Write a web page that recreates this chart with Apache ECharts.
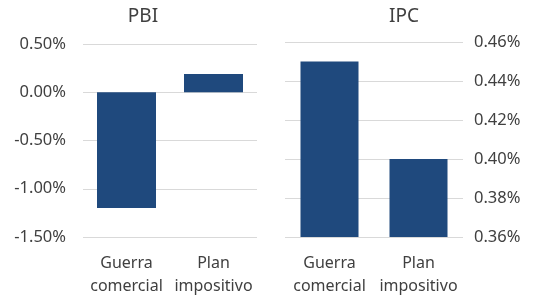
<!DOCTYPE html>
<html>
<head>
<meta charset="utf-8">
<script src="https://cdn.jsdelivr.net/npm/echarts@6/dist/echarts.min.js"></script>
<style>
  html, body { margin: 0; padding: 0; background: #fff; }
  #chart { width: 542px; height: 298px; }
</style>
</head>
<body>
<div id="chart"></div>
<script>
// categorias y valores (%)
const categories = ['Guerra\ncomercial', 'Plan\nimpositivo']
const pbiValues = [-1.2, 0.19]
const ipcValues = [0.45, 0.40]
const pbiTicks = { min: -1.5, max: 0.5, interval: 0.5 }
const ipcTicks = { min: 0.36, max: 0.46, interval: 0.02 }

const textColor = '#404040'
const barColor = '#1f497d'
const fontFamily = '"Noto Sans", sans-serif'

const pct = v => v.toFixed(2) + '%'

const dom = echarts.init(document.getElementById('chart'))
const option = {
  animation: false,
  textStyle: { fontFamily: fontFamily },
  title: [
    {
      text: 'PBI', left: 138, top: 2, textAlign: 'center',
      textStyle: { fontSize: 19, fontWeight: 'normal', color: textColor, fontFamily: fontFamily }
    },
    {
      text: 'IPC', left: 399, top: 2, textAlign: 'center',
      textStyle: { fontSize: 19, fontWeight: 'normal', color: textColor, fontFamily: fontFamily }
    }
  ],
  grid: [
    { left: 83, right: 285, top: 44, bottom: 59 },
    { left: 285, right: 79, top: 42, bottom: 60 }
  ],
  xAxis: [
    {
      type: 'category', gridIndex: 0, data: categories,
      position: 'bottom',
      axisLine: { show: false, onZero: false },
      axisTick: { show: false },
      axisLabel: { interval: 0, color: textColor, fontSize: 16, lineHeight: 23, margin: 15, fontFamily: fontFamily }
    },
    {
      type: 'category', gridIndex: 1, data: categories,
      axisLine: { show: false },
      axisTick: { show: false },
      axisLabel: { interval: 0, color: textColor, fontSize: 16, lineHeight: 23, margin: 15, fontFamily: fontFamily }
    }
  ],
  yAxis: [
    {
      type: 'value', gridIndex: 0,
      min: pbiTicks.min, max: pbiTicks.max, interval: pbiTicks.interval,
      axisLine: { show: false },
      axisTick: { show: false },
      splitLine: { lineStyle: { color: '#d9d9d9', width: 1 } },
      axisLabel: { color: textColor, fontSize: 16.5, margin: 17, formatter: pct, fontFamily: fontFamily }
    },
    {
      type: 'value', gridIndex: 1, position: 'right',
      min: ipcTicks.min, max: ipcTicks.max, interval: ipcTicks.interval,
      axisLine: { show: false },
      axisTick: { show: false },
      splitLine: { lineStyle: { color: '#d9d9d9', width: 1 } },
      axisLabel: { color: textColor, fontSize: 16.5, margin: 11, formatter: pct, fontFamily: fontFamily }
    }
  ],
  series: [
    {
      name: 'PBI', type: 'bar', xAxisIndex: 0, yAxisIndex: 0,
      data: pbiValues, barWidth: 59,
      itemStyle: { color: barColor }
    },
    {
      name: 'IPC', type: 'bar', xAxisIndex: 1, yAxisIndex: 1,
      data: ipcValues, barWidth: 58,
      itemStyle: { color: barColor }
    }
  ]
}
dom.setOption(option)
</script>
</body>
</html>
